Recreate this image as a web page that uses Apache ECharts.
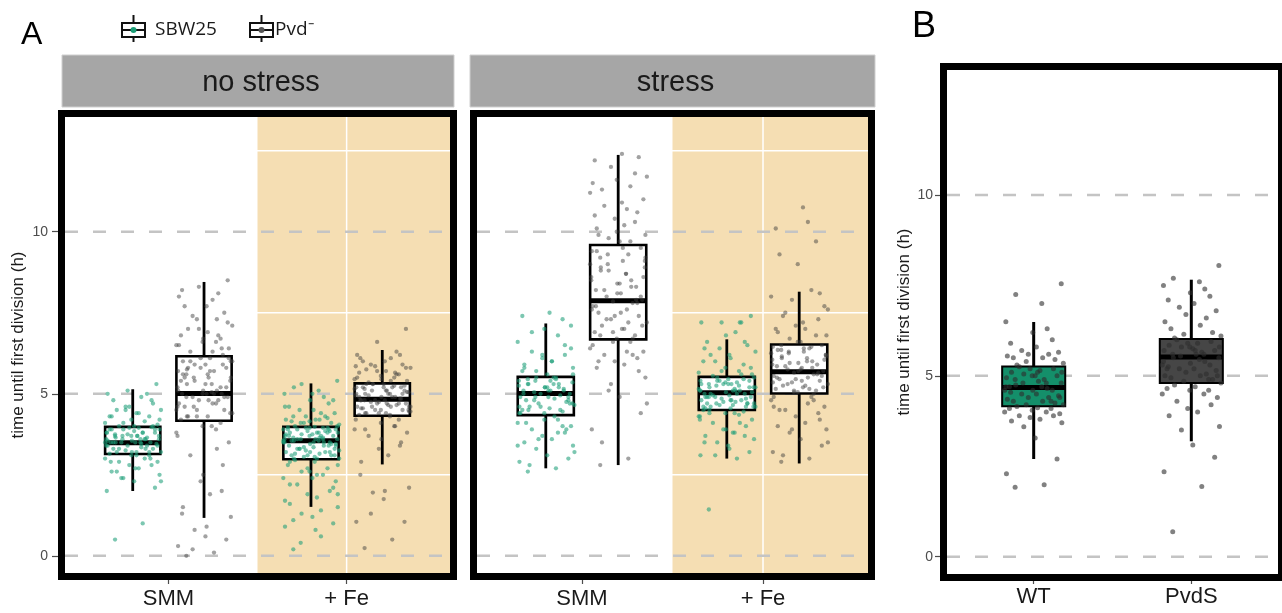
<!DOCTYPE html>
<html><head><meta charset="utf-8">
<script src="https://cdn.jsdelivr.net/npm/echarts@6/dist/echarts.min.js"></script>
<style>html,body{margin:0;padding:0;background:#fff}#c{width:1282px;height:613px}</style>
</head><body><div id="c"></div><script>
// ---------- categories / labels ----------
const CONDITIONS = ['no stress', 'stress'];
const MEDIA = ['SMM', '+ Fe'];
const SHADED_MEDIA = ['+ Fe'];
const STRAINS_A = ['SBW25', 'Pvd⁻'];
const STRAINS_B = ['WT', 'PvdS'];
const Y_TICKS = [0, 5, 10];
const Y_MINOR = [2.5, 7.5, 12.5];
const Y_TITLE = 'time until first division (h)';
const PANEL_LETTERS = ['A', 'B'];

// ---------- box statistics [lower whisker, Q1, median, Q3, upper whisker] ----------
const BOX_NS_SMM_SBW = [2.0, 3.14, 3.49, 3.98, 5.14];
const BOX_NS_SMM_PVD = [1.17, 4.17, 5.01, 6.16, 8.45];
const BOX_NS_FE_SBW  = [1.51, 2.98, 3.55, 3.98, 5.32];
const BOX_NS_FE_PVD  = [2.82, 4.32, 4.83, 5.32, 6.35];
const BOX_S_SMM_SBW  = [2.70, 4.34, 5.01, 5.52, 7.17];
const BOX_S_SMM_PVD  = [2.80, 6.68, 7.87, 9.59, 12.37];
const BOX_S_FE_SBW   = [3.00, 4.50, 5.03, 5.52, 6.68];
const BOX_S_FE_PVD   = [2.85, 5.01, 5.68, 6.52, 8.15];
const BOX_B_WT       = [2.70, 4.16, 4.68, 5.26, 6.49];
const BOX_B_PVDS     = [3.19, 4.80, 5.52, 6.02, 7.66];

// ---------- individual cells (h) ----------
const PTS_NS_SMM_SBW = [0.5,1.0,2.0,2.1,2.3,2.4,2.5,2.6,2.7,2.8,2.8,2.9,2.9,3.0,3.0,3.1,3.1,
 3.15,3.2,3.2,3.2,3.25,3.3,3.3,3.35,3.4,3.4,3.4,3.45,3.5,3.5,3.5,3.5,3.55,3.6,3.6,3.6,3.65,3.7,3.7,3.7,3.75,3.8,3.8,3.8,3.85,3.9,3.9,3.9,3.95,3.95,3.97,
 4.0,4.05,4.1,4.15,4.2,4.3,4.3,4.4,4.5,4.5,4.6,4.7,4.8,4.9,5.0,5.0,5.1,5.3,
 2.4,2.7,2.9,3.0,3.2,3.3,3.4,3.5,3.5,3.6,3.6,3.7,3.7,3.8,3.8,3.9,4.0,4.1,4.2,4.3,4.4,4.6,4.8,3.3,3.4,3.5,3.6,3.7,3.2,3.9,3.1,2.6,2.3,4.5,4.0,3.5,3.45,3.55,3.65,3.75];
const PTS_NS_SMM_PVD = [0.0,0.1,0.3,0.5,0.6,0.8,1.2,1.5,1.9,2.3,2.8,3.1,3.5,3.8,3.9,4.0,4.1,
 4.2,4.3,4.3,4.4,4.5,4.5,4.6,4.7,4.7,4.8,4.8,4.9,4.9,5.0,5.0,5.0,5.1,5.1,5.2,5.3,5.3,5.4,5.5,5.5,5.6,5.7,5.7,5.8,5.9,5.9,6.0,6.0,6.1,6.1,6.2,
 6.3,6.4,6.5,6.6,6.6,6.7,6.8,6.9,7.0,7.1,7.3,7.5,7.7,7.9,8.0,8.1,8.3,8.5,
 0.2,0.9,1.3,2.0,2.5,3.3,3.7,4.0,4.3,4.4,4.6,4.8,4.9,5.0,5.1,5.2,5.3,5.4,5.5,5.6,5.7,5.8,5.9,6.0,6.1,4.5,4.7,5.0,5.2,5.4,5.6,5.8,6.0,4.3,4.9,5.5,6.3,6.5,6.8,7.0,7.2,7.4,7.7,8.2,6.4,6.7,7.3,4.6,5.05,5.75];
const PTS_NS_FE_SBW = [0.2,0.6,0.9,1.0,1.2,1.3,1.5,1.6,1.8,1.9,2.0,2.2,2.3,2.4,2.5,2.6,2.7,2.8,2.9,2.95,
 3.0,3.05,3.1,3.1,3.15,3.2,3.2,3.25,3.3,3.3,3.35,3.4,3.4,3.45,3.5,3.5,3.55,3.55,3.6,3.6,3.6,3.65,3.7,3.7,3.7,3.75,3.75,3.8,3.8,3.8,3.85,3.85,3.9,3.9,3.9,3.95,3.95,3.95,3.97,3.98,
 4.0,4.05,4.1,4.1,4.15,4.2,4.2,4.3,4.3,4.4,4.5,4.5,4.6,4.7,4.8,4.9,5.0,5.1,5.2,5.4,
 0.4,0.8,1.1,1.4,1.7,2.1,2.4,2.6,2.8,2.9,3.0,3.1,3.2,3.3,3.4,3.5,3.6,3.7,3.8,3.9,3.05,3.15,3.25,3.35,3.45,3.55,3.65,3.75,3.85,3.95,3.1,3.3,3.5,3.7,3.9,3.2,3.4,3.6,3.8,3.0,
 4.0,4.1,4.2,4.3,4.4,4.6,4.8,5.0,5.3,1.9,2.2,2.5,2.7,3.5,3.6,3.45,3.55,3.65,4.15,4.25];
const PTS_NS_FE_PVD = [0.24,0.5,1.05,1.05,1.75,1.95,2.1,2.9,3.1,3.3,3.5,3.7,3.8,3.9,4.0,4.1,4.2,
 4.35,4.4,4.4,4.45,4.5,4.5,4.55,4.6,4.6,4.65,4.7,4.7,4.75,4.8,4.8,4.85,4.9,4.9,4.95,5.0,5.0,5.05,5.1,5.1,5.15,5.2,5.2,5.25,5.3,5.3,4.6,4.8,5.0,4.4,5.2,
 5.35,5.4,5.45,5.5,5.55,5.6,5.65,5.7,5.75,5.8,5.85,5.9,6.0,6.1,6.2,6.3,6.6,7.0,
 1.3,2.0,2.5,3.4,3.6,4.0,4.2,4.35,4.4,4.5,4.6,4.7,4.8,4.9,5.0,5.1,5.2,5.3,4.45,4.55,4.65,4.75,4.85,4.95,5.05,5.15,5.25,4.5,4.7,4.9,5.1,5.3,4.6,4.8,5.0,5.2,
 5.4,5.5,5.6,5.7,5.8,5.9,6.0,6.1,6.2,5.45,5.65,5.85,4.3,3.9];
const PTS_S_SMM_SBW = [2.6,2.7,2.9,3.0,3.1,3.3,3.4,3.5,3.6,3.7,3.8,3.9,4.0,4.1,4.2,
 4.4,4.45,4.5,4.55,4.6,4.65,4.7,4.75,4.8,4.85,4.9,4.95,5.0,5.0,5.05,5.1,5.1,5.15,5.2,5.2,5.25,5.3,5.3,5.35,5.4,5.4,5.45,5.5,4.6,4.9,
 5.6,5.7,5.8,5.9,6.0,6.1,6.2,6.3,6.4,6.6,6.8,7.0,7.3,7.4,7.5,
 2.8,3.2,3.6,3.9,4.1,4.3,4.4,4.5,4.6,4.7,4.8,4.9,5.0,5.1,5.2,5.3,5.4,5.5,4.5,4.7,4.9,5.1,5.3,5.45,4.4,4.8,5.2,5.5,5.6,5.8,6.0,6.2,6.5,6.9,7.1,3.4,3.8,4.2,4.0,5.7];
const PTS_S_SMM_PVD = [2.8,3.0,3.9,4.4,4.9,5.1,5.5,5.8,5.9,6.0,6.1,6.2,6.3,6.4,6.6,
 6.7,6.8,6.9,7.0,7.1,7.2,7.3,7.4,7.5,7.6,7.7,7.8,7.85,7.9,8.0,8.1,8.2,8.3,8.4,8.5,8.6,8.7,8.8,8.9,9.0,9.1,9.2,9.3,9.4,9.5,
 9.7,9.8,9.9,10.1,10.2,10.4,10.6,10.8,11.0,11.2,11.4,11.6,11.8,12.2,12.4,
 3.5,4.7,5.3,5.7,6.0,6.3,6.5,6.7,6.9,7.1,7.3,7.5,7.7,7.9,8.1,8.3,8.5,8.7,8.9,9.1,9.3,9.5,6.8,7.2,7.6,8.0,8.4,8.8,9.2,9.4,7.0,7.4,7.8,8.2,8.6,9.0,
 9.7,10.0,10.3,10.5,10.9,11.3,11.7,12.0,12.3,9.9,10.7,11.5,6.2,6.6];
const PTS_S_FE_SBW = [1.43,3.0,3.1,3.2,3.4,3.5,3.6,3.7,3.8,3.9,4.0,4.1,4.2,4.3,4.35,4.4,4.45,
 4.5,4.55,4.6,4.6,4.65,4.7,4.7,4.75,4.8,4.8,4.85,4.9,4.9,4.95,5.0,5.0,5.05,5.1,5.1,5.15,5.2,5.2,5.25,5.3,5.3,5.35,5.4,5.4,5.45,5.5,4.7,4.9,5.1,5.3,4.6,
 5.55,5.6,5.65,5.7,5.8,5.9,6.0,6.1,6.2,6.3,6.4,6.5,6.6,6.9,7.2,7.2,7.2,7.4,
 3.1,3.3,3.5,3.7,3.9,4.1,4.3,4.4,4.5,4.6,4.7,4.8,4.9,5.0,5.1,5.2,5.3,5.4,5.5,4.55,4.65,4.75,4.85,4.95,5.05,5.15,5.25,5.35,5.45,4.6,4.8,5.0,5.2,5.4,4.7,4.9,5.1,5.3,
 5.6,5.7,5.8,6.0,6.2,6.4,6.6,6.8,7.2,4.2,3.8,4.4];
const PTS_S_FE_PVD = [2.9,3.0,3.2,3.4,3.6,3.8,3.9,4.0,4.1,4.3,4.4,4.5,4.6,4.8,4.9,
 5.05,5.1,5.15,5.2,5.25,5.3,5.35,5.4,5.45,5.5,5.55,5.6,5.65,5.7,5.75,5.8,5.85,5.9,5.95,6.0,6.05,6.1,6.15,6.2,6.25,6.3,6.35,6.4,6.45,6.5,
 6.6,6.7,6.8,6.9,7.0,7.1,7.3,7.5,7.7,8.0,8.2,9.0,9.7,10.1,10.75,
 3.1,3.5,3.9,4.2,4.5,4.7,4.9,5.0,5.1,5.2,5.3,5.4,5.5,5.6,5.7,5.8,5.9,6.0,6.1,6.2,6.3,6.4,6.5,5.15,5.35,5.55,5.75,5.95,6.15,6.35,5.25,5.45,5.65,5.85,6.05,6.25,6.45,
 6.6,6.8,7.0,7.2,7.4,7.6,7.9,8.1,9.3,10.3,4.6,4.8,5.05];
const PTS_B_WT = [1.92,1.99,2.29,2.70,3.28,3.59,3.7,3.75,3.8,3.85,3.9,3.9,3.95,4.0,4.0,4.05,4.1,4.1,4.12,4.15,
 4.2,4.2,4.25,4.3,4.3,4.35,4.4,4.4,4.45,4.5,4.5,4.55,4.6,4.6,4.65,4.7,4.7,4.75,4.8,4.8,4.85,4.9,4.9,4.95,5.0,5.0,5.05,5.1,5.1,5.15,5.2,5.2,5.25,4.4,4.6,4.8,5.0,4.3,4.7,5.1,
 5.3,5.35,5.4,5.45,5.5,5.5,5.55,5.6,5.6,5.65,5.7,5.8,5.9,6.0,6.2,6.3,6.5,7.0,7.25,7.55];
const PTS_B_PVDS = [0.69,1.94,2.35,2.75,3.09,3.5,3.6,3.9,4.0,4.1,4.2,4.3,4.4,4.5,4.5,4.6,4.6,4.65,4.7,4.75,
 4.8,4.85,4.9,4.95,5.0,5.0,5.05,5.1,5.15,5.2,5.2,5.25,5.3,5.35,5.4,5.4,5.45,5.5,5.5,5.55,5.6,5.6,5.65,5.7,5.7,5.75,5.8,5.8,5.85,5.9,5.9,5.95,6.0,5.0,5.3,5.6,5.8,4.9,5.2,5.7,
 6.05,6.1,6.15,6.2,6.3,6.4,6.5,6.6,6.7,6.8,6.9,7.0,7.1,7.2,7.3,7.4,7.5,7.6,7.7,8.05];

// hand-picked horizontal jitter (fraction of the jitter half-width)
const JITTER = [-0.62,0.35,-0.91,0.78,0.05,-0.33,0.94,-0.74,0.21,-0.12,0.66,-0.48,0.87,-0.97,0.42,-0.05,0.58,-0.81,0.13,-0.56,
 0.99,-0.25,0.71,-0.68,0.30,-0.88,0.50,-0.18,0.83,-0.40,0.09,-0.77,0.62,-0.03,0.45,-0.93,0.27,-0.60,0.92,-0.36,0.16];

// ---------- layout / style constants ----------
const GRIDS = [
  {left: 65, top: 117, width: 385, height: 456},
  {left: 477, top: 117, width: 391, height: 456},
  {left: 947, top: 70, width: 331, height: 504}
];
const XR_A = [0.42, 2.58], YR_A = [-0.53, 13.54];
const XR_B = [0.45, 2.55], YR_B = [-0.48, 13.46];
const DODGE = 0.2, BOXW_A = 0.31, JW_A = 0.16, BOXW_B = 0.40, JW_B = 0.19;
const GREEN_PT = 'rgba(27,158,119,0.72)', GRAY_PT = 'rgba(60,60,60,0.6)', GRAY_PT_B = 'rgba(45,45,45,0.75)';
const FILL_B = ['#148f6a', '#464646'];
const FONT = 'Liberation Sans, Arial, sans-serif';

function jitter(values, xc, hw) { return values.map((v, i) => [xc + JITTER[i % JITTER.length] * hw, v]); }

function bgRender(shadeFrom) {
  return function (params, api) {
    const cs = params.coordSys, ch = [];
    if (shadeFrom != null) {
      const p = api.coord([shadeFrom, 0]);
      ch.push({type: 'rect', shape: {x: p[0], y: cs.y, width: cs.x + cs.width - p[0], height: cs.height}, style: {fill: '#f5deb3'}});
    }
    Y_MINOR.forEach(v => { const y = api.coord([1, v])[1];
      ch.push({type: 'line', shape: {x1: cs.x, y1: y, x2: cs.x + cs.width, y2: y}, style: {stroke: '#fff', lineWidth: 1.5}}); });
    [1, 2].forEach(v => { const x = api.coord([v, 0])[0];
      ch.push({type: 'line', shape: {x1: x, y1: cs.y, x2: x, y2: cs.y + cs.height}, style: {stroke: '#fff', lineWidth: 1.5}}); });
    Y_TICKS.forEach(v => { const y = api.coord([1, v])[1];
      ch.push({type: 'line', shape: {x1: cs.x, y1: y, x2: cs.x + cs.width, y2: y}, style: {stroke: '#c4c4c4', lineWidth: 2.5, lineDash: [13, 15]}}); });
    return {type: 'group', children: ch};
  };
}
function boxRender(w, fills, bl, wl, ml) {
  return function (params, api) {
    const x = api.value(0);
    const lo = api.coord([x, api.value(1)]), q1 = api.coord([x, api.value(2)]), md = api.coord([x, api.value(3)]),
          q3 = api.coord([x, api.value(4)]), hi = api.coord([x, api.value(5)]);
    const hw = api.size([w, 0])[0] / 2;
    return {type: 'group', children: [
      {type: 'line', shape: {x1: lo[0], y1: lo[1], x2: q1[0], y2: q1[1]}, style: {stroke: '#000', lineWidth: wl}},
      {type: 'line', shape: {x1: q3[0], y1: q3[1], x2: hi[0], y2: hi[1]}, style: {stroke: '#000', lineWidth: wl}},
      {type: 'rect', shape: {x: q1[0] - hw, y: q3[1], width: 2 * hw, height: q1[1] - q3[1]}, style: {fill: fills[api.value(6)], stroke: '#000', lineWidth: bl}},
      {type: 'line', shape: {x1: md[0] - hw, y1: md[1], x2: md[0] + hw, y2: md[1]}, style: {stroke: '#000', lineWidth: ml}}
    ]};
  };
}

const PANEL_A = [
  {boxes: [[BOX_NS_SMM_SBW, BOX_NS_SMM_PVD], [BOX_NS_FE_SBW, BOX_NS_FE_PVD]],
   pts:   [[PTS_NS_SMM_SBW, PTS_NS_SMM_PVD], [PTS_NS_FE_SBW, PTS_NS_FE_PVD]]},
  {boxes: [[BOX_S_SMM_SBW, BOX_S_SMM_PVD], [BOX_S_FE_SBW, BOX_S_FE_PVD]],
   pts:   [[PTS_S_SMM_SBW, PTS_S_SMM_PVD], [PTS_S_FE_SBW, PTS_S_FE_PVD]]}
];

const xAxes = [], yAxes = [], series = [];
const tickStyle = {lineStyle: {color: '#4d4d4d', width: 1.2}};
PANEL_A.forEach((panel, gi) => {
  xAxes.push({gridIndex: gi, type: 'value', min: XR_A[0], max: XR_A[1], axisLine: {show: false, onZero: false}, splitLine: {show: false},
    axisTick: {customValues: [1, 2], length: 11, ...tickStyle},
    axisLabel: {customValues: [1, 2], formatter: v => MEDIA[Math.round(v) - 1], margin: 15, fontSize: 22, color: '#1a1a1a', fontFamily: FONT}});
  yAxes.push({gridIndex: gi, type: 'value', min: YR_A[0], max: YR_A[1], axisLine: {show: false, onZero: false}, splitLine: {show: false},
    axisTick: {show: gi === 0, customValues: Y_TICKS, length: 13, ...tickStyle},
    axisLabel: {show: gi === 0, customValues: Y_TICKS, margin: 17, fontSize: 14, color: '#4d4d4d', fontFamily: FONT},
    name: gi === 0 ? Y_TITLE : '', nameLocation: 'middle', nameGap: 38, nameRotate: 90,
    nameTextStyle: {fontSize: 17, color: '#1a1a1a', fontFamily: FONT}});
  const shadeIdx = MEDIA.indexOf(SHADED_MEDIA[0]) + 1;
  series.push({type: 'custom', xAxisIndex: gi, yAxisIndex: gi, z: 1, silent: true, renderItem: bgRender(shadeIdx - 0.5), data: [[1.5, 5]]});
  const boxData = [], green = [], gray = [];
  MEDIA.forEach((m, mi) => {
    STRAINS_A.forEach((s, si) => {
      const xc = mi + 1 + (si === 0 ? -DODGE : DODGE);
      boxData.push([xc, ...panel.boxes[mi][si], 0]);
      (si === 0 ? green : gray).push(...jitter(panel.pts[mi][si], xc, JW_A));
    });
  });
  series.push({type: 'custom', name: 'box', xAxisIndex: gi, yAxisIndex: gi, z: 2, silent: true,
    renderItem: boxRender(BOXW_A, ['#ffffff'], 2.6, 2.8, 5), encode: {x: 0, y: [1, 2, 3, 4, 5]}, data: boxData});
  series.push({type: 'scatter', name: STRAINS_A[0], xAxisIndex: gi, yAxisIndex: gi, z: 3, symbolSize: 4.3, itemStyle: {color: GREEN_PT}, data: green});
  series.push({type: 'scatter', name: STRAINS_A[1], xAxisIndex: gi, yAxisIndex: gi, z: 3, symbolSize: 4.3, itemStyle: {color: GRAY_PT}, data: gray});
});
// Panel B
xAxes.push({gridIndex: 2, type: 'value', min: XR_B[0], max: XR_B[1], axisLine: {show: false, onZero: false}, splitLine: {show: false},
  axisTick: {customValues: [1, 2], length: 10, ...tickStyle},
  axisLabel: {customValues: [1, 2], formatter: v => STRAINS_B[Math.round(v) - 1], margin: 12, fontSize: 22, color: '#1a1a1a', fontFamily: FONT}});
yAxes.push({gridIndex: 2, type: 'value', min: YR_B[0], max: YR_B[1], axisLine: {show: false, onZero: false}, splitLine: {show: false},
  axisTick: {customValues: Y_TICKS, length: 12, ...tickStyle},
  axisLabel: {customValues: Y_TICKS, margin: 14, fontSize: 14, color: '#4d4d4d', fontFamily: FONT},
  name: Y_TITLE, nameLocation: 'middle', nameGap: 34, nameRotate: 90, nameTextStyle: {fontSize: 17, color: '#1a1a1a', fontFamily: FONT}});
series.push({type: 'custom', xAxisIndex: 2, yAxisIndex: 2, z: 1, silent: true, renderItem: bgRender(null), data: [[1.5, 5]]});
series.push({type: 'custom', xAxisIndex: 2, yAxisIndex: 2, z: 2, silent: true, renderItem: boxRender(BOXW_B, FILL_B, 2, 3, 5),
  encode: {x: 0, y: [1, 2, 3, 4, 5]}, data: [[1, ...BOX_B_WT, 0], [2, ...BOX_B_PVDS, 1]]});
series.push({type: 'scatter', xAxisIndex: 2, yAxisIndex: 2, z: 3, symbolSize: 5, itemStyle: {color: GRAY_PT_B},
  data: [...jitter(PTS_B_WT, 1, JW_B), ...jitter(PTS_B_PVDS, 2, JW_B)]});

// ---------- decorations: borders, strips, legend, panel letters ----------
const graphics = [];
GRIDS.forEach(g => graphics.push({type: 'rect', z: 100, silent: true,
  shape: {x: g.left - 3.5, y: g.top - 3.5, width: g.width + 7, height: g.height + 7}, style: {fill: 'none', stroke: '#000', lineWidth: 7}}));
const STRIPS = [{x: 62, w: 392}, {x: 470, w: 405}];
STRIPS.forEach((s, i) => {
  graphics.push({type: 'rect', z: 50, shape: {x: s.x, y: 55, width: s.w, height: 52}, style: {fill: '#a6a6a6', stroke: '#cfcfcf', lineWidth: 1}});
  graphics.push({type: 'text', z: 51, x: s.x + s.w / 2 + 3, y: 83, style: {text: CONDITIONS[i], font: '29px ' + FONT, fill: '#1a1a1a', align: 'center', verticalAlign: 'middle'}});
});
function legendIcon(x, dot) {
  return [
    {type: 'line', shape: {x1: x + 11.5, y1: 15, x2: x + 11.5, y2: 42}, style: {stroke: '#111', lineWidth: 2}},
    {type: 'rect', shape: {x: x, y: 23, width: 23, height: 14}, style: {fill: '#fff', stroke: '#111', lineWidth: 2}},
    {type: 'line', shape: {x1: x, y1: 30, x2: x + 23, y2: 30}, style: {stroke: '#111', lineWidth: 2}},
    {type: 'circle', shape: {cx: x + 11.5, cy: 30, r: 3}, style: {fill: dot}}
  ];
}
graphics.push(...legendIcon(122, '#1b9e77'), ...legendIcon(250, '#555'));
graphics.push({type: 'text', x: 155, y: 30, style: {text: STRAINS_A[0], font: '19px Open Sans, sans-serif', fill: '#1a1a1a', verticalAlign: 'middle'}});
graphics.push({type: 'text', x: 275, y: 30, style: {text: STRAINS_A[1], font: '19px Open Sans, sans-serif', fill: '#1a1a1a', verticalAlign: 'middle'}});
graphics.push({type: 'text', x: 21, y: 35, style: {text: PANEL_LETTERS[0], font: '32px ' + FONT, fill: '#000', verticalAlign: 'middle'}});
graphics.push({type: 'text', x: 912, y: 27, style: {text: PANEL_LETTERS[1], font: '36px ' + FONT, fill: '#000', verticalAlign: 'middle'}});

const chart = echarts.init(document.getElementById('c'), null, {renderer: 'canvas'});
chart.setOption({
  animation: false,
  backgroundColor: '#fff',
  grid: GRIDS.map(g => ({...g, containLabel: false, outerBoundsMode: 'none'})),
  xAxis: xAxes, yAxis: yAxes, series: series, graphic: graphics
});
</script></body></html>
